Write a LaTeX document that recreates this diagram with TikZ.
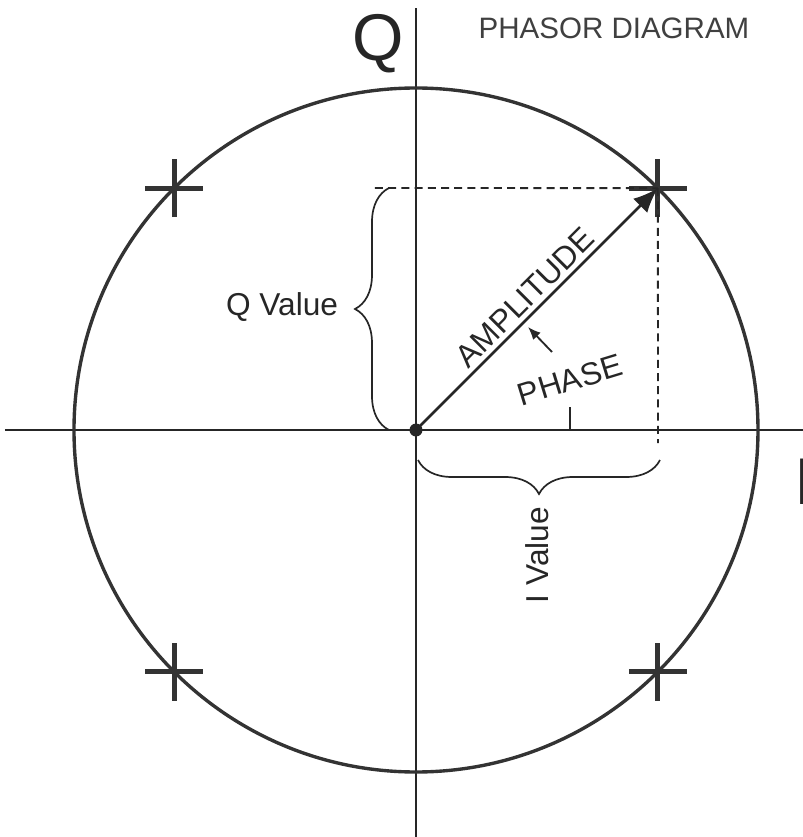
\documentclass[tikz,border=0pt]{standalone}
\usepackage{fontspec}
\setmainfont{Liberation Sans}
\usetikzlibrary{arrows.meta,decorations.pathreplacing}

\begin{document}
\begin{tikzpicture}[
    x=0.025cm, y=0.025cm,
    axis/.style={line width=1.2pt, black!85},
    ring/.style={line width=2.4pt, black!80},
    crossline/.style={line width=3.4pt, black!80},
    vec/.style={line width=1.8pt, black!85, -{Latex[length=0.62cm,width=0.5cm]}},
    proj/.style={line width=1.3pt, black!85, dash pattern=on 0.2cm off 0.13cm},
    bracket/.style={line width=1.2pt, black!85,
                    decorate, decoration={brace, amplitude=0.85cm}},
    lbl/.style={inner sep=0pt, font=\fontsize{22.5}{26}\selectfont, text=black!85},
    biglbl/.style={inner sep=0pt, font=\fontsize{47}{50}\selectfont, text=black!85},
]
\useasboundingbox (-416,-407) rectangle (387,430);

% axes
\coordinate (O) at (0,0);
\coordinate (xl) at (-411,0);
\coordinate (xr) at (390,0);
\coordinate (yt) at (0,422);
\coordinate (yb) at (0,-410);
\draw[axis] (xl) -- (xr);
\draw[axis] (yb) -- (yt);

% unit circle and the four constellation points
\draw[ring] (O) circle (342);
\foreach \a in {45,135,225,315}{
  \coordinate (c\a) at (\a:342);
  \draw[crossline] (c\a) +(-29,0) -- +(29,0) (c\a) +(0,-29) -- +(0,29);
}

% projections
\coordinate (qstart) at (-41,242);
\coordinate (iend) at (242,-13);
\draw[proj] (qstart) -- (c45);
\draw[proj] (c45) -- (iend);

% phasor
\draw[vec] (O) -- (c45) node[pos=0.5, lbl, rotate=45, anchor=south, yshift=3pt] (amp) {AMPLITUDE};
\fill[black!85] (O) circle (6.5);

% phase angle
\coordinate (tickb) at (154,0);
\coordinate (tickt) at (154,23);
\draw[axis] (tickb) -- (tickt);
\node[lbl, rotate=17] (phase) at (154,50) {PHASE};
\coordinate (pa) at (136,78);
\coordinate (pb) at (112,103);
\draw[line width=1.3pt, black!85, -{Latex[length=0.32cm,width=0.26cm]}] (pa) -- (pb);

% braces
\coordinate (qb0) at (-27,0);
\coordinate (qb1) at (-27,242);
\draw[bracket] (qb0) -- (qb1);
\node[lbl] (qval) at (-134,123) {Q Value};

\coordinate (ib0) at (244,-30);
\coordinate (ib1) at (2,-30);
\draw[bracket] (ib0) -- (ib1);
\node[lbl, rotate=90] (ival) at (121,-125) {I Value};

% axis names and title
\node[biglbl] (qname) at (-38,386) {Q};
\node[biglbl, anchor=west] (iname) at (378,-52) {I};
\node[lbl, font=\fontsize{21}{24}\selectfont, text=black!75] (title) at (198,402) {PHASOR DIAGRAM};
\end{tikzpicture}
\end{document}
